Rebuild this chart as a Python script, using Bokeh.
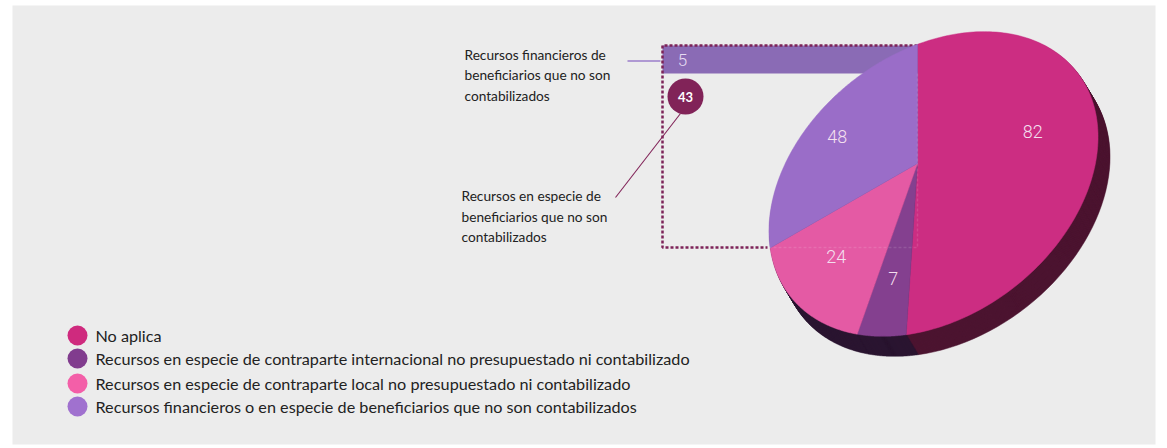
import numpy as np
from bokeh.plotting import figure
from bokeh.models import Range1d
from bokeh.core.properties import value
from bokeh.embed import file_html
from bokeh.resources import INLINE

# ---- data ----
slice_names = ["No aplica",
               "Recursos en especie de contraparte internacional no presupuestado ni contabilizado",
               "Recursos en especie de contraparte local no presupuestado ni contabilizado",
               "Recursos financieros o en especie de beneficiarios que no son contabilizados"]
slice_values = [82, 7, 24, 48]
slice_colors = ["#cc2d82", "#84408f", "#e45aa4", "#9a6dc8"]
legend_colors = ["#cf2a7e", "#813c8e", "#f35fa8", "#a071cf"]
side_colors = ["#4c1430", "#2a1530", "#2a1530", "#2a1530"]
label_radius = [0.67, 0.70, 0.68, 0.70]

bar_value = 5
circle_value = 43
note_top = ["Recursos financieros de", "beneficiarios que no son", "contabilizados"]
note_bottom = ["Recursos en especie de", "beneficiarios que no son", "contabilizados"]

# ---- geometry (page pixels) ----
W, H = 1167, 448
CX, CY = 933.0, 183.5      # centre of the disc's outline
A, B = 182.0, 131.0        # semi-axes
TILT = np.radians(38)      # major axis tilt
APEX = (917.0, 163.0)      # where the slices meet
DEPTH = (12.0, 20.0)       # extrusion

U = np.array([np.cos(TILT), -np.sin(TILT)])
V = np.array([np.sin(TILT), np.cos(TILT)])

def to_page(x, y):
    return (CX + A*x*U[0] + B*y*V[0], CY + A*x*U[1] + B*y*V[1])

def from_page(x, y):
    d = np.array([x-CX, y-CY])
    return d @ U / A, d @ V / B

cx, cy = from_page(*APEX)
RHO = np.hypot(cx, cy)
ALPHA = np.arctan2(cy, cx)
KAPPA = np.sqrt(1 - RHO**2)

# the point of the outline straight above the apex sets the start angle
ux, uy = from_page(APEX[0], APEX[1]-1)
ux, uy = ux-cx, uy-cy
qa = ux*ux + uy*uy
qb = 2*(cx*ux + cy*uy)
qc = cx*cx + cy*cy - 1
s = (-qb + np.sqrt(qb*qb - 4*qa*qc)) / (2*qa)
tx, ty = cx + s*ux, cy + s*uy
ca, sa = np.cos(ALPHA), np.sin(ALPHA)
rx, ry = ca*tx + sa*ty, -sa*tx + ca*ty
den = 1 - RHO*rx
PHI = np.arctan2(ry*KAPPA/den, (rx-RHO)/den) + ALPHA

def project(theta, r=1.0):
    """Perspective view of a tilted round disc."""
    a = theta + PHI - ALPHA
    x0, y0 = r*np.cos(a), r*np.sin(a)
    den = 1 + RHO*x0
    x1, y1 = (x0 + RHO)/den, y0*KAPPA/den
    return to_page(ca*x1 - sa*y1, sa*x1 + ca*y1)

total = sum(slice_values)
edges = np.cumsum([0] + slice_values) / total * 2*np.pi

p = figure(width=W, height=H, x_range=Range1d(0, W), y_range=Range1d(H, 0),
           output_backend="svg", toolbar_location=None, min_border=0)
p.axis.visible = False
p.grid.visible = False
p.outline_line_color = None
p.background_fill_color = "white"
p.border_fill_color = "white"

# page panel
p.quad(left=[12], right=[1155], top=[5], bottom=[444], fill_color="#ececec", line_color=None)

FONT = value("Lato")
def label(x, y, txt, size, color="#222222", font=FONT, align="left", style="normal"):
    p.text(x=[x], y=[y], text=[txt], text_font=font, text_font_size=f"{size}px",
           text_color=color, text_baseline="middle", text_align=align, text_font_style=style)

# highlight bar behind the disc
p.quad(left=[662], right=[917], top=[45], bottom=[73], fill_color="#8a6bb5", line_color=None)

# dotted bracket
DOT = "#7d2358"
p.line([917, 662, 662, 767], [45, 45, 247, 247], line_color=DOT, line_width=2.5, line_dash="3 2")

# extruded side
for k in np.linspace(1, 0.05, 20):
    for e0, e1, col in zip(edges[:-1], edges[1:], side_colors):
        t = np.linspace(e0, e1, 80)
        xs, ys = project(t)
        p.patch(np.r_[APEX[0], xs] + k*DEPTH[0], np.r_[APEX[1], ys] + k*DEPTH[1],
                fill_color=col, line_color=col, line_width=0.5)

# top face
for e0, e1, col in zip(edges[:-1], edges[1:], slice_colors):
    t = np.linspace(e0, e1, 160)
    xs, ys = project(t)
    p.patch(np.r_[APEX[0], xs], np.r_[APEX[1], ys], fill_color=col, line_color=col, line_width=0.5)

# faint dots of the bracket showing through
p.line([917, 917, 767], [73, 247, 247], line_color="#ffffff", line_alpha=0.12, line_width=1.5, line_dash="3 2")

# value labels
NUM = value("Roboto Light")
for e0, e1, v, r in zip(edges[:-1], edges[1:], slice_values, label_radius):
    x, y = project((e0+e1)/2, r)
    label(float(x), float(y), str(v), 18, "#f3dfee", NUM, "center")
label(682, 59, str(bar_value), 17, "#e6dcf2", NUM, "center")

# callouts
p.line([627, 660], [60.5, 60.5], line_color="#9b7ecb", line_width=1.5)
p.line([680, 615], [113, 197], line_color="#812358", line_width=1.1)
p.scatter([685], [96], size=36, fill_color="#812358", line_color=None)
label(685, 96, str(circle_value), 13, "#ffffff", FONT, "center", "bold")

for i, t in enumerate(note_top):
    label(464, 53.5 + i*20.5, t, 13.7)
for i, t in enumerate(note_bottom):
    label(461, 195 + i*20.5, t, 13.7)

# legend
legend_y = [335, 358, 383, 406]
for y, col, name in zip(legend_y, legend_colors, slice_names):
    p.scatter([77], [y], size=20, fill_color=col, line_color=None)
    label(95, y - 0.5, name, 16.2)

open("out.html", "w").write(file_html(p, INLINE))
